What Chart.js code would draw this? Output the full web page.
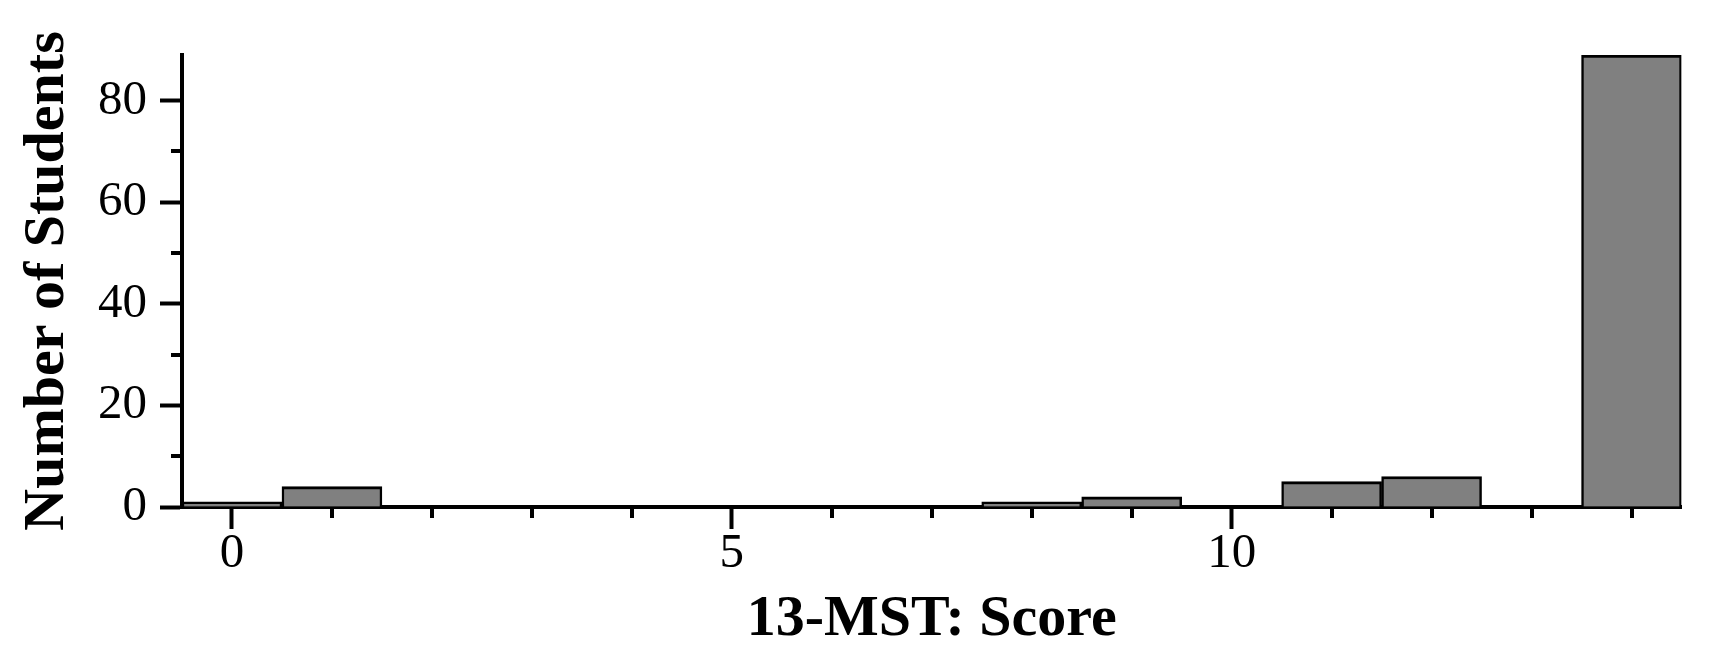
<!DOCTYPE html>
<html>
<head>
<meta charset="utf-8">
<script src="https://cdn.jsdelivr.net/npm/chart.js@4/dist/chart.umd.min.js"></script>
<style>
  html, body { margin: 0; padding: 0; background: #ffffff; }
  #wrap { width: 1720px; height: 670px; }
</style>
</head>
<body>
<div id="wrap"><canvas id="c" width="1720" height="670"></canvas></div>
<script>
// ---- data ----
const scores = [0, 1, 8, 9, 11, 12, 14];
const counts = [1, 4, 1, 2, 5, 6, 89];
const xMajorTicks = [0, 5, 10];
const xMinorTicks = [1, 2, 3, 4, 6, 7, 8, 9, 11, 12, 13, 14];
const yMajorTicks = [0, 20, 40, 60, 80];
const yMinorTicks = [10, 30, 50, 70];
const xTitle = '13-MST: Score';
const yTitle = 'Number of Students';

const points = scores.map((s, i) => ({ x: s, y: counts[i] }));

const minorTicksPlugin = {
  id: 'minorTicks',
  afterDraw(chart) {
    const ctx = chart.ctx;
    const xs = chart.scales.x, ys = chart.scales.y;
    const area = chart.chartArea;
    ctx.save();
    ctx.strokeStyle = '#000000';
    ctx.lineWidth = 4;
    ctx.lineCap = 'butt';
    ctx.beginPath();
    xMinorTicks.forEach(v => {
      const px = Math.round(xs.getPixelForValue(v));
      ctx.moveTo(px, area.bottom);
      ctx.lineTo(px, area.bottom + 11);
    });
    yMinorTicks.forEach(v => {
      const py = Math.round(ys.getPixelForValue(v));
      ctx.moveTo(area.left - 11, py);
      ctx.lineTo(area.left, py);
    });
    ctx.stroke();
    ctx.restore();
  }
};

const serif = "'Liberation Serif', 'Times New Roman', serif";

new Chart(document.getElementById('c'), {
  type: 'bar',
  data: {
    datasets: [{
      data: points,
      backgroundColor: '#808080',
      borderColor: '#000000',
      borderWidth: { top: 3, left: 2.5, right: 2.5, bottom: 0 },
      borderSkipped: 'start',
      barPercentage: 1.0,
      categoryPercentage: 1.0
    }]
  },
  options: {
    responsive: false,
    animation: false,
    devicePixelRatio: 1,
    layout: { padding: { top: 55, right: 38.5, bottom: 0, left: 0 } },
    plugins: { legend: { display: false }, tooltip: { enabled: false } },
    scales: {
      x: {
        type: 'linear',
        min: -0.5,
        max: 14.5,
        offset: false,
        z: 1,
        afterBuildTicks: (scale) => { scale.ticks = xMajorTicks.map(v => ({ value: v })); },
        afterFit: (scale) => { scale.height = 163; },
        grid: {
          offset: false,
          drawOnChartArea: false,
          drawTicks: true,
          tickLength: 22,
          tickWidth: 4,
          tickColor: '#000000'
        },
        border: { display: true, color: '#000000', width: 4 },
        ticks: {
          color: '#000000',
          padding: 1,
          maxRotation: 0,
          autoSkip: false,
          font: { family: serif, size: 49, lineHeight: 1 }
        },
        title: {
          display: true,
          text: xTitle,
          color: '#000000',
          padding: { top: 4, bottom: 15 },
          font: { family: serif, size: 58, weight: 'bold', lineHeight: 1.2 }
        }
      },
      y: {
        type: 'linear',
        min: 0,
        max: 89,
        afterBuildTicks: (scale) => { scale.ticks = yMajorTicks.map(v => ({ value: v })); },
        afterFit: (scale) => { scale.width = 182; },
        grid: {
          drawOnChartArea: false,
          drawTicks: true,
          tickLength: 22,
          tickWidth: 4,
          tickColor: '#000000'
        },
        border: { display: true, color: '#000000', width: 4 },
        ticks: {
          color: '#000000',
          padding: 13,
          font: { family: serif, size: 49, lineHeight: 1 }
        },
        title: {
          display: true,
          text: yTitle,
          color: '#000000',
          padding: { top: 13, bottom: 4 },
          font: { family: serif, size: 58, weight: 'bold', lineHeight: 1.2 }
        }
      }
    }
  },
  plugins: [minorTicksPlugin]
});
</script>
</body>
</html>
